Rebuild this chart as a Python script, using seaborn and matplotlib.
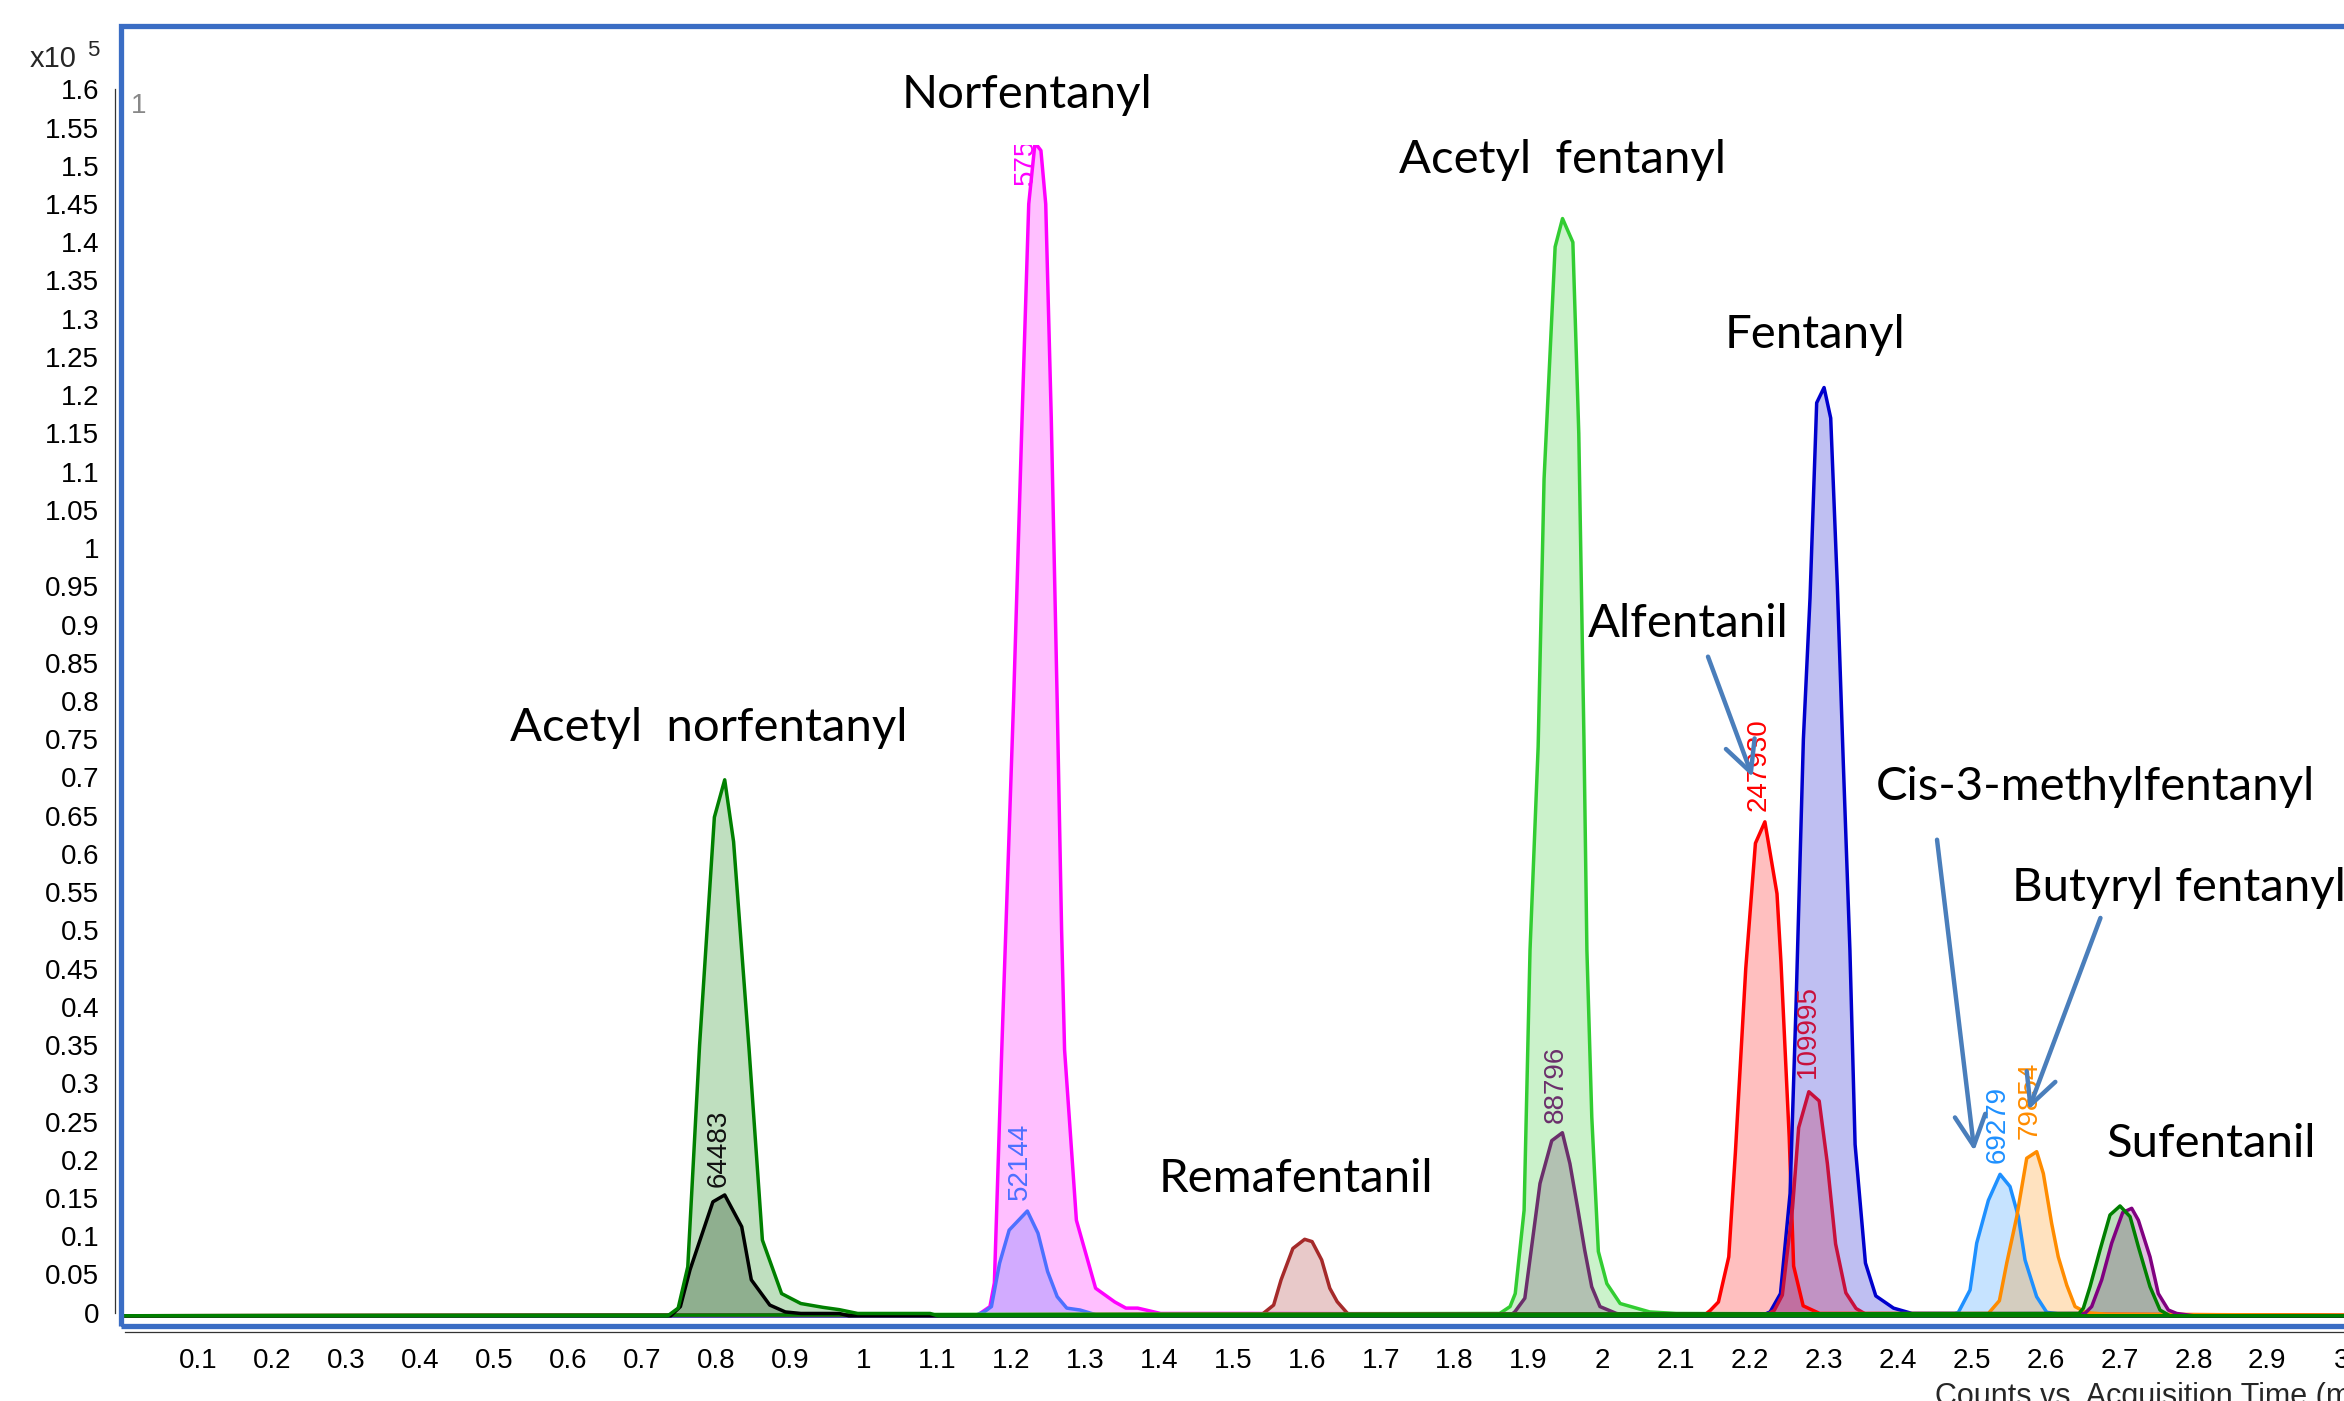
import numpy as np
import seaborn as sns
import matplotlib.pyplot as plt
from matplotlib.patches import Rectangle
from matplotlib.ticker import FuncFormatter

W, H = 2344, 1401
BASE = -0.004  # flat baseline level of the traces (x10^5 counts)

# retention time (min) and counts (x10^5)
acnor_t = [0.0, 0.735, 0.749, 0.762, 0.778, 0.798, 0.812, 0.824, 0.845, 0.863, 0.889, 0.915, 0.945, 0.967, 0.992, 1.09, 1.10, 3.2]
acnor_y = [BASE, BASE, 0.006, 0.06, 0.35, 0.648, 0.697, 0.616, 0.344, 0.095, 0.025, 0.012, 0.007, 0.004, -0.001, -0.001, BASE, BASE]

acnor_q_t = [0.0, 0.739, 0.752, 0.765, 0.796, 0.812, 0.835, 0.848, 0.873, 0.894, 0.915, 0.967, 0.98, 3.2]
acnor_q_y = [BASE, BASE, 0.008, 0.056, 0.145, 0.154, 0.1125, 0.043, 0.010, 0.001, -0.001, -0.001, BASE, BASE]

norf_t = [0.0, 1.153, 1.171, 1.177, 1.187, 1.203, 1.2145, 1.2235, 1.232, 1.240, 1.2465, 1.254, 1.262, 1.268, 1.272, 1.288, 1.314, 1.340, 1.355, 1.371, 1.402, 1.52, 3.2]
norf_y = [BASE, BASE, 0.008, 0.039, 0.344, 0.80, 1.17, 1.45, 1.53, 1.52, 1.45, 1.17, 0.80, 0.50, 0.344, 0.121, 0.032, 0.014, 0.006, 0.006, -0.001, -0.001, BASE]

norf_q_t = [0.0, 1.15, 1.1635, 1.173, 1.184, 1.197, 1.2216, 1.236, 1.249, 1.262, 1.275, 1.293, 1.319, 3.2]
norf_q_y = [BASE, BASE, 0.0013, 0.008, 0.0646, 0.108, 0.133, 0.104, 0.054, 0.021, 0.006, 0.0035, BASE, BASE]

rema_t = [0.0, 1.537, 1.555, 1.565, 1.581, 1.597, 1.607, 1.620, 1.631, 1.641, 1.655, 1.675, 3.2]
rema_y = [BASE, BASE, 0.010, 0.0428, 0.084, 0.096, 0.093, 0.069, 0.032, 0.0144, -0.001, BASE, BASE]

acf_t = [0.0, 1.861, 1.875, 1.882, 1.894, 1.902, 1.913, 1.921, 1.936, 1.946, 1.960, 1.968, 1.975, 1.979, 1.9856, 1.9945, 2.006, 2.024, 2.064, 2.10, 3.2]
acf_y = [BASE, -0.001, 0.008, 0.025, 0.134, 0.474, 0.74, 1.09, 1.394, 1.431, 1.40, 1.15, 0.75, 0.474, 0.256, 0.08, 0.038, 0.012, 0.001, -0.001, BASE]

acf_q_t = [0.0, 1.875, 1.8816, 1.895, 1.9155, 1.9314, 1.9458, 1.956, 1.967, 1.976, 1.9855, 1.9967, 2.019, 2.04, 3.2]
acf_q_y = [BASE, BASE, 0.0013, 0.019, 0.169, 0.225, 0.2354, 0.195, 0.134, 0.082, 0.034, 0.008, -0.001, BASE, BASE]

alf_t = [0.0, 2.137, 2.146, 2.157, 2.171, 2.180, 2.194, 2.2071, 2.2199, 2.2363, 2.2417, 2.2528, 2.2588, 2.2717, 2.294, 2.37, 3.2]
alf_y = [BASE, BASE, 0.003, 0.014, 0.073, 0.21, 0.45, 0.614, 0.642, 0.548, 0.458, 0.23, 0.061, 0.009, -0.001, -0.001, BASE]

fent_t = [0.0, 2.215, 2.227, 2.241, 2.254, 2.262, 2.272, 2.281, 2.290, 2.300, 2.309, 2.318, 2.326, 2.335, 2.342, 2.356, 2.370, 2.394, 2.419, 2.48, 2.52, 3.2]
fent_y = [BASE, BASE, 0.001, 0.025, 0.156, 0.40, 0.75, 0.935, 1.19, 1.21, 1.17, 0.95, 0.72, 0.474, 0.22, 0.065, 0.022, 0.006, -0.001, -0.001, BASE, BASE]

fent_q_t = [0.0, 2.22, 2.2326, 2.2435, 2.2573, 2.2656, 2.2794, 2.2934, 2.3045, 2.3156, 2.3295, 2.3433, 2.36, 3.2]
fent_q_y = [BASE, BASE, 0.003, 0.023, 0.137, 0.242, 0.289, 0.277, 0.195, 0.09, 0.026, 0.0055, BASE, BASE]

cis_t = [0.0, 2.47, 2.4818, 2.4976, 2.5066, 2.5224, 2.5382, 2.5517, 2.563, 2.572, 2.5877, 2.6014, 2.637, 3.2]
cis_y = [BASE, BASE, 0.0005, 0.0297, 0.091, 0.147, 0.181, 0.165, 0.1256, 0.069, 0.021, 0.0005, BASE, BASE]

buty_t = [0.0, 2.5224, 2.5373, 2.5472, 2.5608, 2.5743, 2.5878, 2.5968, 2.608, 2.617, 2.6285, 2.6397, 2.6555, 2.6826, 3.2]
buty_y = [BASE, -0.001, 0.0157, 0.0646, 0.1256, 0.202, 0.2106, 0.182, 0.117, 0.073, 0.036, 0.008, 0.0, -0.002, BASE]

sufen_t = [0.0, 2.645, 2.651, 2.660, 2.6735, 2.687, 2.7006, 2.7142, 2.7254, 2.7412, 2.7547, 2.768, 3.2]
sufen_y = [BASE, -0.001, 0.006, 0.034, 0.082, 0.1278, 0.1396, 0.1256, 0.0863, 0.034, 0.0035, BASE, BASE]

sufen_q_t = [0.0, 2.653, 2.6622, 2.6758, 2.6893, 2.7042, 2.7164, 2.7254, 2.7412, 2.7524, 2.766, 2.7773, 2.80, 3.2]
sufen_q_y = [BASE, -0.001, 0.008, 0.043, 0.091, 0.131, 0.1365, 0.121, 0.073, 0.025, 0.0035, -0.001, BASE, BASE]

# peak area labels (rotated)
peak_text = ['64483', '52144', '575', '88796', '109995', '247930', '69279', '79854']
peak_x = [0.804, 1.212, 1.2198, 1.937, 2.2776, 2.212, 2.5355, 2.5788]
peak_y = [0.1648, 0.1474, 1.4745, 0.2477, 0.307, 0.6566, 0.1958, 0.2272]
peak_color = ['#111111', '#4d70ff', '#ff00ff', '#6b2f6b', '#c8103c', '#ff0000', '#1e90ff', '#ff8c00']

# compound names
names = ['Acetyl  norfentanyl', 'Norfentanyl', 'Remafentanil', 'Acetyl  fentanyl', 'Fentanyl',
         'Alfentanil', 'Cis-3-methylfentanyl', 'Butyryl fentanyl', 'Sufentanil']
name_x = [0.5214, 1.0508, 1.3991, 1.7247, 2.166, 1.9805, 2.370, 2.5544, 2.6825]
name_y = [0.7477, 1.5761, 0.1585, 1.4906, 1.2617, 0.8837, 0.6711, 0.5385, 0.204]

# arrows (tail -> head) pointing at peaks
arrow_tail = [(2.1429, 0.858), (2.4529, 0.6186), (2.6741, 0.5163)]
arrow_head = [(2.2033, 0.7006), (2.5034, 0.2116), (2.5768, 0.2654)]

traces = [
    (norf_t, norf_y, '#ff00ff'),
    (norf_q_t, norf_q_y, '#4d70ff'),
    (rema_t, rema_y, '#a52a2a'),
    (acf_t, acf_y, '#32cd32'),
    (acf_q_t, acf_q_y, '#6b2f6b'),
    (alf_t, alf_y, '#ff0000'),
    (fent_t, fent_y, '#0000cd'),
    (fent_q_t, fent_q_y, '#c8103c'),
    (cis_t, cis_y, '#1e90ff'),
    (buty_t, buty_y, '#ff8c00'),
    (sufen_q_t, sufen_q_y, '#800080'),
    (sufen_t, sufen_y, '#008000'),
    (acnor_q_t, acnor_q_y, '#000000'),
    (acnor_t, acnor_y, '#008000'),
]

sns.set_style('white')
plt.rcParams['font.family'] = ['Liberation Sans', 'DejaVu Sans']

fig = plt.figure(figsize=(W / 100, H / 100), dpi=100)
ax = fig.add_axes([121 / W, 75.5 / H, 2323 / W, 1300 / H])

for t, y, c in traces:
    ax.fill_between(t, y, BASE, color=c, alpha=0.25, lw=0)
    sns.lineplot(x=t, y=y, color=c, lw=2.5, ax=ax, sort=False, estimator=None, legend=False)

ax.set_xlim(-0.00514, 3.1391)
ax.set_ylim(-0.01674, 1.6835)

ax.set_xticks(np.round(np.arange(0.1, 3.01, 0.1), 1))
ax.set_yticks(np.round(np.arange(0, 1.6001, 0.05), 2))
fmt = FuncFormatter(lambda v, p: f'{v:g}')
ax.xaxis.set_major_formatter(fmt)
ax.yaxis.set_major_formatter(fmt)
ax.tick_params(axis='both', direction='out', length=7.2, width=0.9, color='#555555',
               pad=4.3, labelsize=20, labelcolor='black')
ax.set_xlabel('')
ax.set_ylabel('')

for s in ['top', 'right']:
    ax.spines[s].set_visible(False)
ax.spines['left'].set_position(('outward', 4.3))
ax.spines['bottom'].set_position(('outward', 4.5))
ax.spines['left'].set_bounds(0, 1.6)
ax.spines['bottom'].set_bounds(0, 3.139)
for s in ['left', 'bottom']:
    ax.spines[s].set_color('#333333')
    ax.spines[s].set_linewidth(0.9)

# blue plot frame
fig.add_artist(Rectangle((121 / W, 75.5 / H), 2323 / W, 1300 / H, transform=fig.transFigure,
                         fill=False, ec='#3a6dc4', lw=3.8, zorder=5))

for txt, x, y, c in zip(peak_text, peak_x, peak_y, peak_color):
    ax.text(x, y, txt, rotation=90, ha='center', va='bottom', fontsize=20, color=c, zorder=8)

for nm, x, y in zip(names, name_x, name_y):
    kw = {}
    if nm == 'Norfentanyl':
        kw['bbox'] = dict(boxstyle='square,pad=0.62', fc='white', ec='none')
    ax.text(x, y, nm, ha='left', va='baseline', fontsize=34, family=['Lato', 'DejaVu Sans'],
            color='black', zorder=10, **kw)

for (x0, y0), (x1, y1) in zip(arrow_tail, arrow_head):
    ax.annotate('', xy=(x1, y1), xytext=(x0, y0),
                arrowprops=dict(arrowstyle='->,head_length=1.1,head_width=0.55', color='#4a7ebb',
                                lw=3.2, mutation_scale=20, shrinkA=0, shrinkB=0), zorder=11)

fig.text(77 / W, 1 - 66.7 / H, 'x10', ha='right', va='baseline', fontsize=21)
fig.text(87 / W, 1 - 56 / H, '5', ha='left', va='baseline', fontsize=16)
fig.text(131 / W, 1 - 113 / H, '1', ha='left', va='baseline', fontsize=20, color='#888888')
fig.text(1935 / W, -4 / H, 'Counts vs. Acquisition Time (min)', ha='left', va='baseline', fontsize=22)

fig.savefig('out.png', dpi=100)
